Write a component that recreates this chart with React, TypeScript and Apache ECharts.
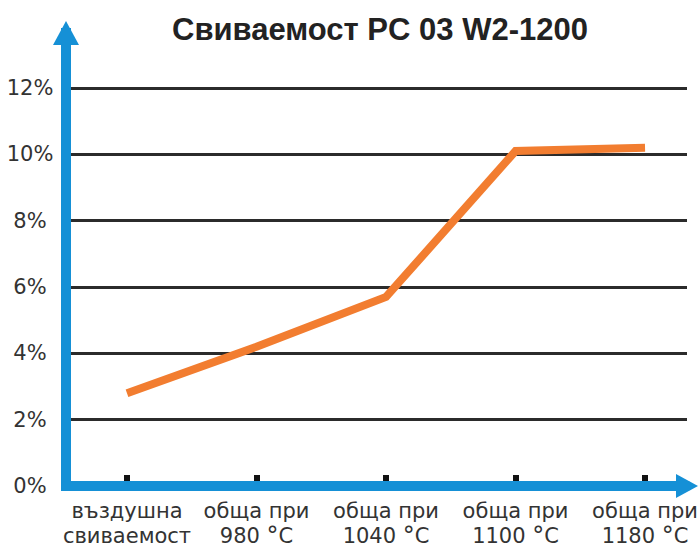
import React, { useEffect, useRef } from "react";
import * as echarts from "echarts";

const titleText = "Свиваемост PC 03 W2-1200";
const categories = [
  "въздушна\nсвиваемост",
  "обща при\n980 °C",
  "обща при\n1040 °C",
  "обща при\n1100 °C",
  "обща при\n1180 °C",
];
const shrinkage = [2.8, 4.2, 5.7, 10.1, 10.2];
const yTicks = [0, 2, 4, 6, 8, 10, 12];
const xTicks = [0, 1, 2, 3, 4];

const BLUE = "#1590d6";
const ORANGE = "#f27d30";
const FONT = "DejaVu Sans";

export default function App() {
  const ref = useRef<HTMLDivElement>(null);
  useEffect(() => {
    if (!ref.current) return;
    const chart = echarts.init(ref.current, null, { renderer: "svg" });
    chart.setOption({
      animation: false,
      backgroundColor: "#ffffff",
      graphic: [
        {
          type: "text",
          x: 380,
          y: 29,
          style: {
            text: titleText,
            fontSize: 31,
            fontWeight: "bold",
            fontFamily: "Liberation Sans",
            fill: "#222222",
            align: "center",
            verticalAlign: "middle",
          },
        },
      ],
      grid: {
        left: 66,
        right: 12,
        top: 33,
        bottom: 63,
        containLabel: false,
        outerBoundsMode: "none",
      },
      xAxis: [
        {
          type: "value",
          min: -0.471,
          max: 4.324,
          position: "bottom",
          axisLine: { show: false, onZero: false },
          splitLine: { show: false },
          axisTick: {
            show: true,
            inside: true,
            length: 11,
            customValues: xTicks,
            lineStyle: { color: "#111111", width: 6 },
          },
          axisLabel: {
            show: true,
            customValues: xTicks,
            margin: 12,
            fontSize: 21,
            lineHeight: 25,
            fontFamily: FONT,
            color: "#333333",
            formatter: (v: number) => {
              const s = categories[Math.round(v)] ?? "";
              return s.replace("°", "{d|°}");
            },
            rich: {
              d: {
                fontSize: 24,
                lineHeight: 25,
                fontFamily: FONT,
                color: "#333333",
              },
            },
          },
        },
        {
          type: "value",
          min: -0.471,
          max: 4.324,
          position: "bottom",
          z: 3,
          axisLine: {
            show: true,
            onZero: false,
            symbol: ["none", "triangle"],
            symbolSize: [24, 22],
            lineStyle: { color: BLUE, width: 10 },
          },
          splitLine: { show: false },
          axisTick: { show: false },
          axisLabel: { show: false },
        },
      ],
      yAxis: {
        type: "value",
        min: 0,
        max: 13.66,
        interval: 2,
        position: "left",
        axisLine: {
          show: true,
          onZero: false,
          symbol: ["none", "triangle"],
          symbolSize: [26, 24],
          lineStyle: { color: BLUE, width: 10, cap: "square" },
        },
        axisTick: { show: false },
        axisLabel: {
          customValues: yTicks,
          formatter: "{value}%",
          margin: 36,
          align: "center",
          fontSize: 21,
          fontFamily: FONT,
          color: "#333333",
        },
        splitLine: {
          show: true,
          showMinLine: false,
          showMaxLine: false,
          lineStyle: { color: "#2b2b2b", width: 3 },
        },
      },
      series: [
        {
          type: "line",
          xAxisIndex: 0,
          data: shrinkage.map((v, i) => [i, v]),
          showSymbol: false,
          symbol: "none",
          lineStyle: { color: ORANGE, width: 8, join: "miter" },
          z: 4,
        },
      ],
    });
    return () => chart.dispose();
  }, []);
  return (
    <div
      ref={ref}
      style={{ position: "fixed", left: 0, top: 0, width: 699, height: 549 }}
    />
  );
}
